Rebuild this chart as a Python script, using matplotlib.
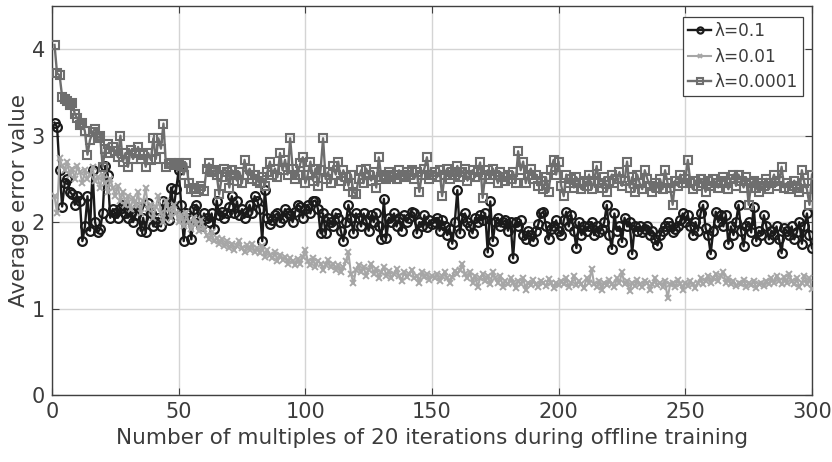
import numpy as np
import matplotlib
matplotlib.use("Agg")
import matplotlib.pyplot as plt

plt.rcParams['font.family'] = ['DejaVu Sans']

steps = np.arange(1, 301)

err_lam_0_1 = [
    3.15, 3.10, 2.60, 2.18, 2.45, 2.50, 2.35, 2.32, 2.20, 2.30,
    2.25, 1.78, 1.95, 2.30, 1.90, 2.60, 2.00, 1.88, 1.92, 2.10,
    2.65, 2.55, 2.05, 2.15, 2.10, 2.05, 2.15, 2.20, 2.10, 2.05,
    2.12, 2.00, 2.08, 2.18, 1.90, 2.05, 1.88, 2.22, 2.10, 1.95,
    2.00, 2.05, 1.95, 2.25, 2.10, 2.02, 2.40, 2.15, 2.38, 2.60,
    2.20, 1.78, 2.10, 2.05, 1.80, 2.15, 2.20, 2.00, 1.95, 2.10,
    2.05, 2.00, 2.10, 1.92, 2.25, 2.08, 2.12, 2.05, 2.10, 2.18,
    2.30, 2.10, 2.24, 2.08, 2.15, 2.05, 2.12, 2.20, 2.10, 2.30,
    2.25, 2.15, 1.78, 2.37, 2.05, 1.98, 2.02, 2.08, 2.10, 2.00,
    2.05, 2.15, 2.10, 2.08, 2.00, 2.12, 2.20, 2.18, 2.05, 2.15,
    2.20, 2.10, 2.24, 2.25, 2.15, 1.87, 2.10, 1.87, 2.05, 2.00,
    1.95, 2.10, 2.05, 1.90, 1.78, 2.00, 2.20, 2.05, 1.87, 2.10,
    2.05, 1.95, 2.10, 2.02, 1.90, 2.08, 2.00, 2.10, 1.95, 1.80,
    2.27, 1.82, 2.05, 2.00, 2.10, 1.95, 2.05, 1.90, 2.08, 2.00,
    2.05, 2.12, 2.10, 1.87, 2.00, 1.95, 2.08, 1.94, 2.02, 1.98,
    2.00, 2.05, 1.90, 2.02, 1.95, 1.85, 1.92, 1.75, 2.00, 2.37,
    1.87, 2.05, 2.10, 2.00, 1.95, 1.87, 2.05, 2.00, 2.08, 2.02,
    2.10, 1.65, 2.24, 1.78, 2.00, 2.05, 1.95, 2.00, 2.02, 1.90,
    2.00, 1.58, 2.00, 1.95, 2.02, 1.85, 1.80, 1.90, 1.85, 1.78,
    1.90, 1.98, 2.10, 2.12, 1.95, 1.80, 1.92, 1.95, 2.02, 1.90,
    1.85, 2.02, 2.12, 1.95, 2.08, 1.90, 1.70, 2.00, 1.85, 1.95,
    1.90, 1.95, 2.00, 1.85, 1.95, 1.88, 1.92, 2.00, 2.20, 1.85,
    1.69, 2.10, 1.90, 1.95, 1.77, 2.05, 1.95, 2.00, 1.63, 1.95,
    1.90, 1.95, 1.88, 1.92, 1.95, 1.85, 1.90, 1.80, 1.73, 1.85,
    1.90, 1.95, 2.00, 1.95, 1.88, 1.92, 1.95, 2.02, 2.10, 2.00,
    2.08, 1.95, 1.85, 2.00, 1.90, 2.10, 2.20, 1.93, 1.85, 1.63,
    1.90, 2.12, 2.00, 2.08, 1.95, 2.08, 1.75, 1.95, 1.85, 2.00,
    2.20, 1.90, 1.72, 1.95, 2.00, 1.88, 2.18, 1.78, 1.90, 1.85,
    2.08, 1.95, 1.80, 1.90, 1.85, 1.95, 1.80, 1.64, 1.93, 1.90,
    1.85, 1.95, 1.80, 1.88, 2.00, 1.75, 1.95, 2.10, 1.85, 1.70,
]

err_lam_0_01 = [
    2.30, 2.10, 2.74, 2.65, 2.60, 2.70, 2.55, 2.62, 2.50, 2.65,
    2.58, 2.45, 2.60, 2.50, 2.55, 2.64, 2.48, 2.52, 2.40, 2.55,
    2.45, 2.35, 2.50, 2.40, 2.30, 2.42, 2.25, 2.35, 2.20, 2.30,
    2.15, 2.28, 2.20, 2.35, 2.10, 2.25, 2.39, 2.15, 2.20, 2.05,
    2.18, 2.30, 2.10, 2.00, 2.25, 2.15, 2.05, 2.20, 2.10, 2.00,
    2.08, 1.95, 2.10, 2.00, 1.92, 2.05, 1.98, 1.90, 2.02, 1.92,
    1.85, 1.80, 1.88, 1.78, 1.82, 1.75, 1.80, 1.72, 1.78, 1.70,
    1.75, 1.68, 1.72, 1.78, 1.70, 1.65, 1.73, 1.68, 1.75, 1.66,
    1.70, 1.64, 1.72, 1.60, 1.68, 1.62, 1.58, 1.65, 1.55, 1.62,
    1.56, 1.60, 1.52, 1.58, 1.55, 1.50, 1.57, 1.52, 1.60, 1.68,
    1.55, 1.50, 1.58, 1.48, 1.55, 1.52, 1.45, 1.50, 1.56, 1.48,
    1.52, 1.45, 1.50, 1.42, 1.48, 1.55, 1.65, 1.40, 1.29, 1.45,
    1.50, 1.42, 1.48, 1.38, 1.45, 1.52, 1.40, 1.46, 1.35, 1.42,
    1.48, 1.38, 1.44, 1.35, 1.40, 1.46, 1.38, 1.32, 1.42, 1.36,
    1.40, 1.45, 1.35, 1.38, 1.30, 1.42, 1.36, 1.40, 1.33, 1.38,
    1.35, 1.40, 1.32, 1.38, 1.42, 1.35, 1.30, 1.37, 1.44, 1.40,
    1.45, 1.52, 1.40, 1.35, 1.42, 1.30, 1.38, 1.25, 1.35, 1.40,
    1.32, 1.38, 1.28, 1.42, 1.35, 1.30, 1.38, 1.25, 1.32, 1.28,
    1.35, 1.30, 1.24, 1.32, 1.28, 1.35, 1.22, 1.30, 1.27, 1.33,
    1.28, 1.25, 1.32, 1.30, 1.26, 1.34, 1.29, 1.24, 1.30, 1.27,
    1.32, 1.28, 1.35, 1.25, 1.30, 1.38, 1.27, 1.32, 1.28, 1.24,
    1.35, 1.30, 1.46, 1.28, 1.25, 1.32, 1.22, 1.30, 1.27, 1.33,
    1.28, 1.25, 1.35, 1.30, 1.42, 1.28, 1.32, 1.20, 1.30, 1.26,
    1.33, 1.28, 1.25, 1.32, 1.30, 1.22, 1.28, 1.35, 1.27, 1.30,
    1.25, 1.32, 1.12, 1.28, 1.30, 1.25, 1.33, 1.28, 1.22, 1.30,
    1.26, 1.32, 1.28, 1.24, 1.30, 1.35, 1.28, 1.32, 1.38, 1.30,
    1.35, 1.40, 1.32, 1.38, 1.42, 1.30, 1.35, 1.28, 1.32, 1.26,
    1.30, 1.28, 1.33, 1.25, 1.30, 1.27, 1.32, 1.24, 1.28, 1.30,
    1.26, 1.32, 1.28, 1.35, 1.30, 1.38, 1.32, 1.28, 1.36, 1.30,
    1.40, 1.32, 1.28, 1.35, 1.25, 1.30, 1.38, 1.28, 1.35, 1.23,
]

err_lam_0_0001 = [
    4.05, 3.72, 3.70, 3.45, 3.42, 3.40, 3.35, 3.38, 3.25, 3.20,
    3.12, 3.15, 3.05, 2.78, 2.95, 3.04, 3.08, 2.97, 3.00, 2.64,
    2.85, 2.90, 2.80, 2.87, 2.82, 2.75, 3.00, 2.70, 2.80, 2.64,
    2.83, 2.73, 2.80, 2.87, 2.73, 2.78, 2.64, 2.80, 2.72, 2.97,
    2.73, 2.97, 2.85, 3.14, 2.64, 2.67, 2.68, 2.66, 2.67, 2.68,
    2.65, 2.55, 2.68, 2.45, 2.38, 2.40, 2.35, 2.38, 2.42, 2.36,
    2.62, 2.68, 2.58, 2.60, 2.55, 2.32, 2.52, 2.62, 2.58, 2.40,
    2.60, 2.55, 2.48, 2.58, 2.45, 2.72, 2.55, 2.62, 2.50, 2.55,
    2.48, 2.45, 2.52, 2.42, 2.58, 2.70, 2.55, 2.62, 2.52, 2.80,
    2.60, 2.72, 2.55, 2.97, 2.62, 2.50, 2.55, 2.68, 2.75, 2.45,
    2.55, 2.70, 2.48, 2.62, 2.42, 2.60, 2.97, 2.50, 2.58, 2.45,
    2.65, 2.55, 2.70, 2.48, 2.60, 2.52, 2.42, 2.55, 2.35, 2.32,
    2.50, 2.60, 2.45, 2.62, 2.55, 2.48, 2.58, 2.40, 2.75, 2.52,
    2.55, 2.50, 2.58, 2.52, 2.55, 2.50, 2.60, 2.55, 2.52, 2.58,
    2.55, 2.60, 2.50, 2.58, 2.35, 2.55, 2.62, 2.75, 2.50, 2.55,
    2.58, 2.52, 2.60, 2.30, 2.55, 2.62, 2.50, 2.58, 2.55, 2.65,
    2.52, 2.58, 2.62, 2.48, 2.55, 2.60, 2.52, 2.58, 2.69, 2.28,
    2.55, 2.60, 2.50, 2.62, 2.55, 2.45, 2.58, 2.52, 2.48, 2.55,
    2.50, 2.58, 2.45, 2.82, 2.60, 2.70, 2.45, 2.55, 2.62, 2.50,
    2.55, 2.42, 2.48, 2.38, 2.52, 2.35, 2.60, 2.72, 2.55, 2.70,
    2.42, 2.30, 2.55, 2.45, 2.50, 2.40, 2.52, 2.45, 2.38, 2.48,
    2.42, 2.55, 2.38, 2.48, 2.65, 2.45, 2.40, 2.52, 2.35, 2.48,
    2.55, 2.45, 2.50, 2.58, 2.42, 2.48, 2.70, 2.40, 2.52, 2.35,
    2.55, 2.45, 2.38, 2.60, 2.50, 2.42, 2.35, 2.45, 2.40, 2.50,
    2.38, 2.60, 2.45, 2.40, 2.20, 2.48, 2.42, 2.55, 2.45, 2.50,
    2.72, 2.45, 2.38, 2.48, 2.42, 2.50, 2.45, 2.35, 2.48, 2.42,
    2.50, 2.45, 2.40, 2.48, 2.52, 2.45, 2.38, 2.50, 2.55, 2.42,
    2.55, 2.48, 2.40, 2.52, 2.20, 2.45, 2.48, 2.40, 2.35, 2.45,
    2.42, 2.50, 2.38, 2.45, 2.55, 2.42, 2.48, 2.64, 2.40, 2.45,
    2.38, 2.42, 2.48, 2.40, 2.35, 2.60, 2.45, 2.38, 2.20, 2.55,
]

series_labels = ['λ=0.1', 'λ=0.01', 'λ=0.0001']
x_ticks = [0, 50, 100, 150, 200, 250, 300]
y_ticks = [0, 1, 2, 3, 4]

text_gray = '#3c3c3c'

fig = plt.figure(figsize=(8.32, 4.62), dpi=100)
ax = fig.add_axes([52 / 832, 67 / 462, 760 / 832, 389 / 462])

ax.plot(steps, err_lam_0_1, color='#1a1a1a', lw=1.7, marker='o', ms=6.3,
        mfc='none', mec='#1a1a1a', mew=1.6, label=series_labels[0], zorder=3)
ax.plot(steps, err_lam_0_01, color='#a6a6a6', lw=1.5, marker='x', ms=5.0,
        mec='#a6a6a6', mew=1.4, label=series_labels[1], zorder=3)
ax.plot(steps, err_lam_0_0001, color='#6e6e6e', lw=1.7, marker='s', ms=5.3,
        mfc='none', mec='#6e6e6e', mew=1.5, label=series_labels[2], zorder=3)

ax.set_xlim(0, 300)
ax.set_ylim(0, 4.5)
ax.set_xticks(x_ticks)
ax.set_yticks(y_ticks)
ax.grid(True, color='#d4d4d4', lw=1.0)
ax.set_axisbelow(True)
ax.tick_params(direction='in', length=5, width=0.8, colors='#404040',
               labelcolor=text_gray, labelsize=15, top=True, right=True, pad=5)
for s in ax.spines.values():
    s.set_color('#404040')
    s.set_linewidth(1.0)

ax.set_xlabel('Number of multiples of 20 iterations during offline training',
              fontsize=15.5, color=text_gray, labelpad=4)
ax.set_ylabel('Average error value', fontsize=15.5, color=text_gray, labelpad=2)

leg = ax.legend(loc='upper right', bbox_to_anchor=(1 - 9 / 760, 1 - 11 / 389),
                borderaxespad=0, fontsize=12.2, handlelength=1.35, handletextpad=0.2,
                borderpad=0.3, labelspacing=0.45, fancybox=False, framealpha=1,
                edgecolor='#404040', markerscale=0.7)
leg.get_frame().set_linewidth(0.9)
for t in leg.get_texts():
    t.set_color(text_gray)

fig.savefig('out.png', dpi=100)
